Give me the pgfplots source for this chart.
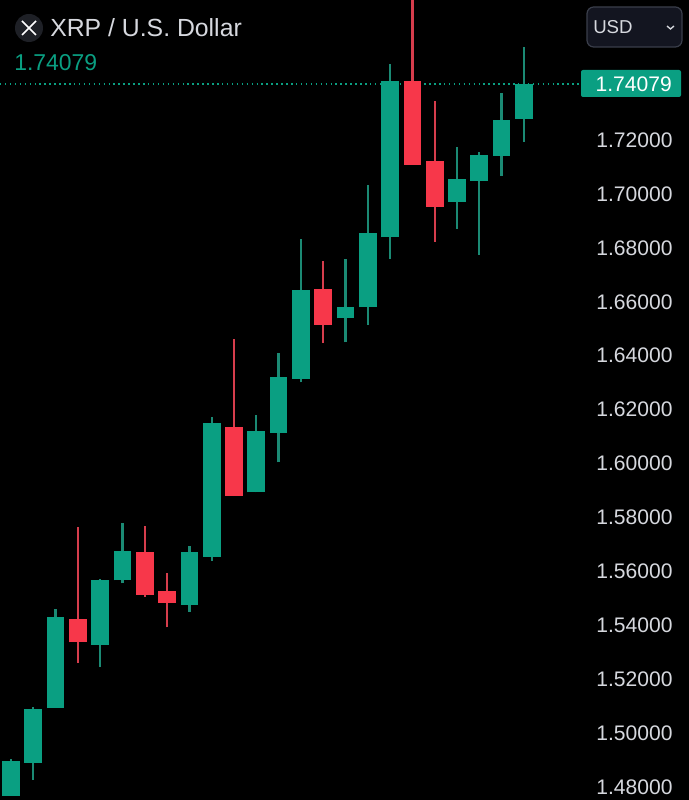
\documentclass[border=0pt]{standalone}
\usepackage{pgfplots}
\pgfplotsset{compat=1.18}
\usepackage{fontspec}
\setmainfont{Liberation Sans}
\definecolor{upc}{HTML}{0A9F82}
\definecolor{upw}{HTML}{1B8A74}
\definecolor{dnc}{HTML}{F7374A}
\definecolor{dnw}{HTML}{D63D4C}
\definecolor{txt}{HTML}{D6D8DE}
\begin{document}
\begin{tikzpicture}
\begin{axis}[
  at={(0,0)},anchor=south west,
  scale only axis,width=516.75pt,height=600pt,
  xmin=-0.4933,xmax=30.404,ymin=1.47519,ymax=1.77193,
  axis background/.style={fill=black},
  axis x line=none,
  axis y line*=right,
  y axis line style={draw=none},
  major tick style={draw=none},
  ytick={1.48,1.50,1.52,1.54,1.56,1.58,1.60,1.62,1.64,1.66,1.68,1.70,1.72},
  yticklabel style={anchor=east,xshift=-8.85pt,text=txt,font=\fontsize{15.8pt}{18pt}\selectfont,
    /pgf/number format/fixed,/pgf/number format/fixed zerofill,/pgf/number format/precision=5,
    /pgf/number format/assume math mode=true},
  scaled y ticks=false,
  unbounded coords=jump,
  no markers,
  clip=true,
]
% last price line
\addplot[upc,line width=1.1pt,dash pattern=on 1.1pt off 2.6pt] coordinates {(-0.4933,1.74079)(25.52,1.74079)};
% wicks of rising candles (low, high)
\addplot[upw,line width=1.7pt] coordinates {
(0,1.47668)(0,1.49029)(0,nan)
(1,1.48261)(1,1.50958)(1,nan)
(2,1.50932)(2,1.54593)(2,nan)
(4,1.52453)(4,1.55717)(4,nan)
(5,1.55557)(5,1.57794)(5,nan)
(8,1.54504)(8,1.56952)(8,nan)
(9,1.56395)(9,1.61737)(9,nan)
(11,1.58933)(11,1.61789)(11,nan)
(12,1.60045)(12,1.64088)(12,nan)
(13,1.63013)(13,1.68328)(13,nan)
(15,1.64496)(15,1.67586)(15,nan)
(16,1.65149)(16,1.70320)(16,nan)
(17,1.67586)(17,1.74808)(17,nan)
(20,1.68699)(20,1.71729)(20,nan)
(21,1.67735)(21,1.71544)(21,nan)
(22,1.70676)(22,1.73755)(22,nan)
(23,1.71937)(23,1.75461)};
% wicks of falling candles (low, high)
\addplot[dnw,line width=1.7pt] coordinates {
(3,1.52612)(3,1.57634)(3,nan)
(6,1.55060)(6,1.57694)(6,nan)
(7,1.53925)(7,1.55928)(7,nan)
(10,1.58795)(10,1.64608)(10,nan)
(14,1.64470)(14,1.67501)(14,nan)
(18,1.71084)(18,1.78000)(18,nan)
(19,1.68228)(19,1.73436)};
% bodies of rising candles (open, close)
\addplot[upc,line width=13.3pt] coordinates {
(0,1.47668)(0,1.48955)(0,nan)
(1,1.48903)(1,1.50895)(1,nan)
(2,1.50932)(2,1.54307)(2,nan)
(4,1.53280)(4,1.55691)(4,nan)
(5,1.55668)(5,1.56755)(5,nan)
(8,1.54763)(8,1.56707)(8,nan)
(9,1.56533)(9,1.61492)(9,nan)
(11,1.58933)(11,1.61195)(11,nan)
(12,1.61143)(12,1.63198)(12,nan)
(13,1.63146)(13,1.66436)(13,nan)
(15,1.65386)(15,1.65794)(15,nan)
(16,1.65794)(16,1.68551)(16,nan)
(17,1.68391)(17,1.74189)(17,nan)
(20,1.69712)(20,1.70542)(20,nan)
(21,1.70479)(21,1.71433)(21,nan)
(22,1.71418)(22,1.72731)(22,nan)
(23,1.72790)(23,1.74079)};
% bodies of falling candles (close, open)
\addplot[dnc,line width=13.3pt] coordinates {
(3,1.53369)(3,1.54233)(3,nan)
(6,1.55123)(6,1.56718)(6,nan)
(7,1.54827)(7,1.55272)(7,nan)
(10,1.58795)(10,1.61355)(10,nan)
(14,1.65149)(14,1.66462)(14,nan)
(18,1.71084)(18,1.74189)(18,nan)
(19,1.69526)(19,1.71221)};
\end{axis}
\begin{scope}[x=0.75pt,y=0.75pt]
% header icon and title (pixel positions, y measured from the bottom)
\fill[fill={rgb,255:red,30;green,32;blue,38}] (29,772) circle (14);
\draw[white,line width=1.3pt] (22,765)--(36,779) (22,779)--(36,765);
\node[anchor=west,inner sep=0pt,text=txt,font=\fontsize{18.6pt}{22pt}\selectfont] at (50,772) {XRP / U.S. Dollar};
\node[anchor=west,inner sep=0pt,text=upc,font=\fontsize{17.2pt}{20pt}\selectfont] at (14,737) {1.74079};
% currency selector
\draw[draw={rgb,255:red,58;green,62;blue,74},fill={rgb,255:red,19;green,21;blue,32},line width=0.9pt,rounded corners=5pt] (587,753) rectangle (682,793);
\node[anchor=west,inner sep=0pt,text=txt,font=\fontsize{14pt}{17pt}\selectfont] at (593,773) {USD};
\draw[txt,line width=1pt] (667,774)--(670.5,771)--(674,774);
% last price tag
\fill[upc,rounded corners=1.5pt] (581,703) rectangle (681,730);
\node[anchor=east,inner sep=0pt,text=white,font=\fontsize{15.8pt}{18pt}\selectfont] at (672,716) {1.74079};
\end{scope}
\end{tikzpicture}
\end{document}
